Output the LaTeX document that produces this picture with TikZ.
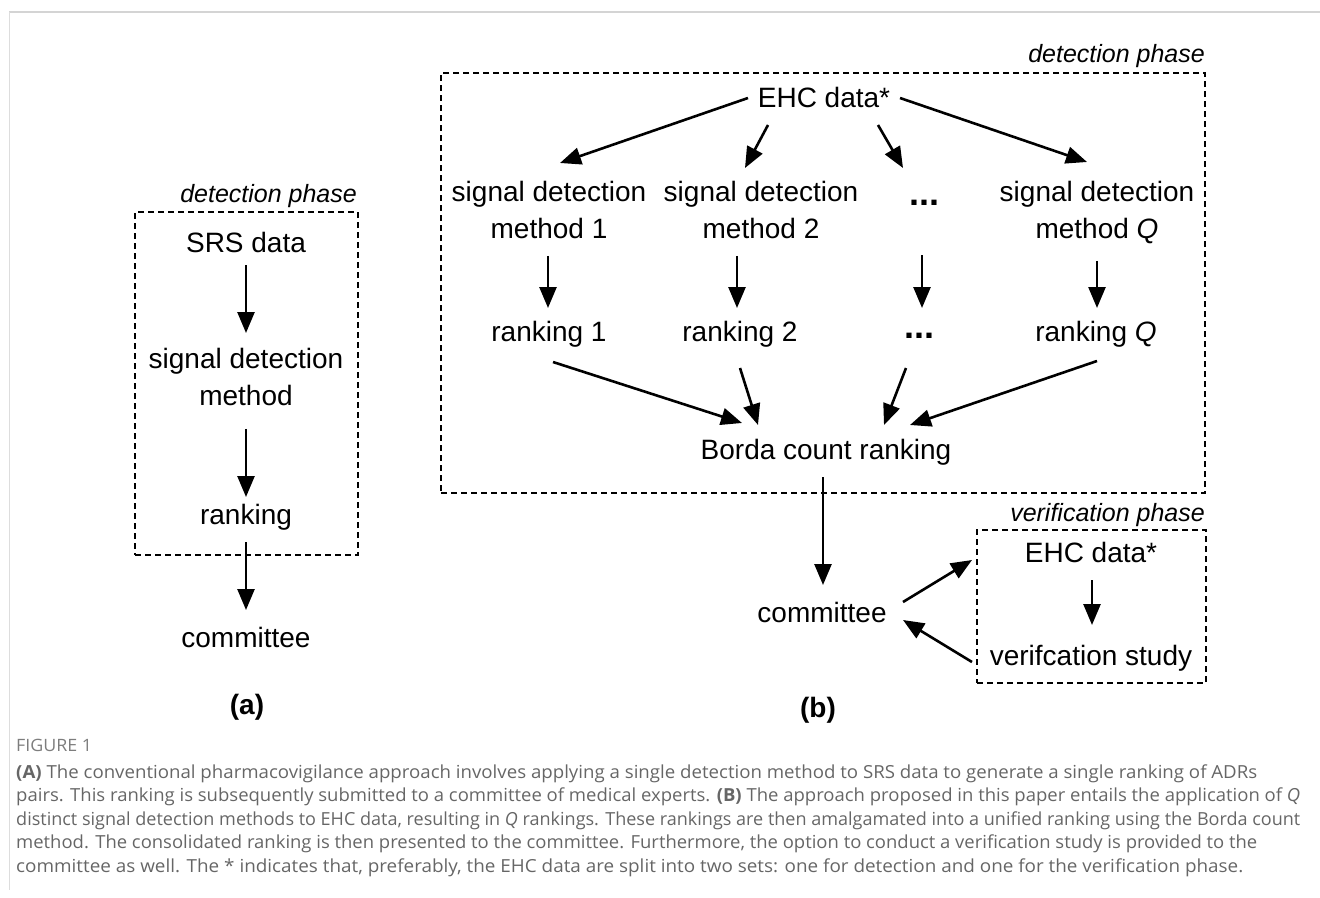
\documentclass[tikz,border=0pt]{standalone}
\usepackage{fontspec}
\setmainfont{Liberation Sans}
\newfontfamily\capfont{Open Sans}
\usetikzlibrary{arrows.meta,calc}
\definecolor{capgray}{HTML}{666666}
\definecolor{rulegray}{HTML}{D4D4D4}

\tikzset{
  lbl/.style={inner sep=0pt, font=\fontsize{28}{37}\selectfont, text height=20pt, text depth=6pt, anchor=base},
  lbltwo/.style={inner sep=0pt, font=\fontsize{28}{37}\selectfont, align=center, anchor=north},
  phaselbl/.style={inner sep=0pt, font=\fontsize{25}{30}\selectfont\itshape, anchor=base east},
  phasebox/.style={draw, dash pattern=on 6pt off 4pt, line width=1.8pt, inner sep=0pt},
  arr/.style={line width=2.6pt, -{Triangle[length=21pt,width=17pt]}},
  dotsnode/.style={inner sep=0pt, font=\fontsize{36}{36}\selectfont\bfseries, anchor=base},
  panel/.style={inner sep=0pt, font=\fontsize{28}{34}\selectfont\bfseries, anchor=base},
  capline/.style={inner sep=0pt, anchor=base west, font=\capfont\fontsize{18}{22}\selectfont, text=capgray},
}
% a caption line stretched or squeezed to a given width
\newcommand{\capfit}[2]{\resizebox{#1}{\height}{#2}}

\begin{document}
\begin{tikzpicture}[x=1pt, y=-1pt]
\useasboundingbox (0,0) rectangle (1320,897);

% page rules
\draw[rulegray, line width=2pt] (9,12) -- (1320,12);
\draw[rulegray!80, line width=1pt] (9,12) -- (9,890);

% ---------------- panel (a) ----------------
\node[phasebox, minimum width=223pt, minimum height=343pt] (boxA) at (246.5,383.5) {};
\node[phaselbl] (labA) at (357,202) {detection phase};
\node[lbl] (srs) at (246,252) {SRS data};
\node[lbltwo] (sdmA) at (246,348) {signal detection\\method};
\node[lbl] (rankA) at (246,524) {ranking};
\node[lbl] (comA) at (246,647) {committee};
\node[panel] (pa) at (247,714) {(a)};

\draw[arr] ($(srs.base)+(0,13)$) -- ($(sdmA.north)+(0,-15)$);
\draw[arr] ($(sdmA.south)+(0,23)$) -- ($(rankA.base)+(0,-27)$);
\draw[arr] ($(rankA.base)+(0,18)$) -- ($(comA.base)+(0,-37)$);

% ---------------- panel (b) ----------------
\node[phasebox, minimum width=764pt, minimum height=420pt] (boxB) at (823,283) {};
\node[phaselbl] (labB) at (1205,62) {detection phase};
\node[lbl] (ehc) at (824,107) {EHC data*};
\node[lbltwo] (m1) at (549,181) {signal detection\\method 1};
\node[lbltwo] (m2) at (761,181) {signal detection\\method 2};
\node[dotsnode] (d1) at (924,205) {...};
\node[lbltwo] (mq) at (1097,181) {signal detection\\method \textit{Q}};
\node[lbl] (r1) at (549,341) {ranking 1};
\node[lbl] (r2) at (740,341) {ranking 2};
\node[dotsnode] (d2) at (919,338) {...};
\node[lbl] (rq) at (1096,341) {ranking \textit{Q}};
\node[lbl] (borda) at (826,459) {Borda count ranking};
\node[lbl] (comB) at (822,622) {committee};
\node[panel] (pb) at (818,717) {(b)};

\node[phasebox, minimum width=229pt, minimum height=153pt] (boxV) at (1091.5,606.5) {};
\node[phaselbl] (labV) at (1205,521) {verification phase};
\node[lbl] (ehcV) at (1091,562) {EHC data*};
\node[lbl] (ver) at (1091,665) {verifcation study};

% data to methods
\draw[arr] ($(ehc.base)+(-76,-9)$) -- ($(m1.north)+(11,-18)$);
\draw[arr] ($(ehc.base)+(-56,18)$) -- ($(m2.north)+(-16,-13)$);
\draw[arr] ($(ehc.base)+(54,18)$) -- ($(d1.base)+(-21,-37)$);
\draw[arr] ($(ehc.base)+(76,-9)$) -- ($(mq.north)+(-10,-19)$);
% methods to rankings
\draw[arr] ($(m1.south)+(-1,17)$) -- ($(r1.base)+(-1,-33)$);
\draw[arr] ($(m2.south)+(-24,17)$) -- ($(r2.base)+(-3,-33)$);
\draw[arr] ($(d1.base)+(-2,50)$) -- ($(d2.base)+(3,-30)$);
\draw[arr] ($(mq.south)+(0,17)$) -- ($(rq.base)+(1,-33)$);
% rankings to Borda count
\draw[arr] ($(r1.base)+(4,21)$) -- ($(borda.base)+(-84,-36)$);
\draw[arr] ($(r2.base)+(0,27)$) -- ($(borda.base)+(-68,-34)$);
\draw[arr] ($(d2.base)+(-13,30)$) -- ($(borda.base)+(58,-34)$);
\draw[arr] ($(rq.base)+(1,20)$) -- ($(borda.base)+(84,-34)$);
% Borda count to committee
\draw[arr] ($(borda.base)+(-3,18)$) -- ($(comB.base)+(1,-37)$);
% verification loop
\draw[arr] ($(comB.base)+(81,-20)$) -- ($(ehcV.base)+(-119,-2)$);
\draw[arr] ($(ver.base)+(-119,-3)$) -- ($(comB.base)+(81,-2)$);
\draw[arr] ($(ehcV.base)+(1,18)$) -- ($(ver.base)+(1,-40)$);

% ---------------- caption ----------------
\node[capline, font=\capfont\fontsize{17}{20}\selectfont, text=capgray!85] (fig) at (16,751) {\capfit{76pt}{FIGURE 1}};
\node[capline] (c1) at (16,778) {\capfit{1241pt}{\textbf{(A)} The conventional pharmacovigilance approach involves applying a single detection method to SRS data to generate a single ranking of ADRs}};
\node[capline] (c2) at (16,801.5) {\capfit{1284pt}{pairs. This ranking is subsequently submitted to a committee of medical experts. \textbf{(B)} The approach proposed in this paper entails the application of \textit{Q}}};
\node[capline] (c3) at (16,825) {\capfit{1284pt}{distinct signal detection methods to EHC data, resulting in \textit{Q} rankings. These rankings are then amalgamated into a unified ranking using the Borda count}};
\node[capline] (c4) at (16,848.5) {\capfit{1241pt}{method. The consolidated ranking is then presented to the committee. Furthermore, the option to conduct a verification study is provided to the}};
\node[capline] (c5) at (16,872) {\capfit{1227pt}{committee as well. The * indicates that, preferably, the EHC data are split into two sets: one for detection and one for the verification phase.}};
\end{tikzpicture}
\end{document}
